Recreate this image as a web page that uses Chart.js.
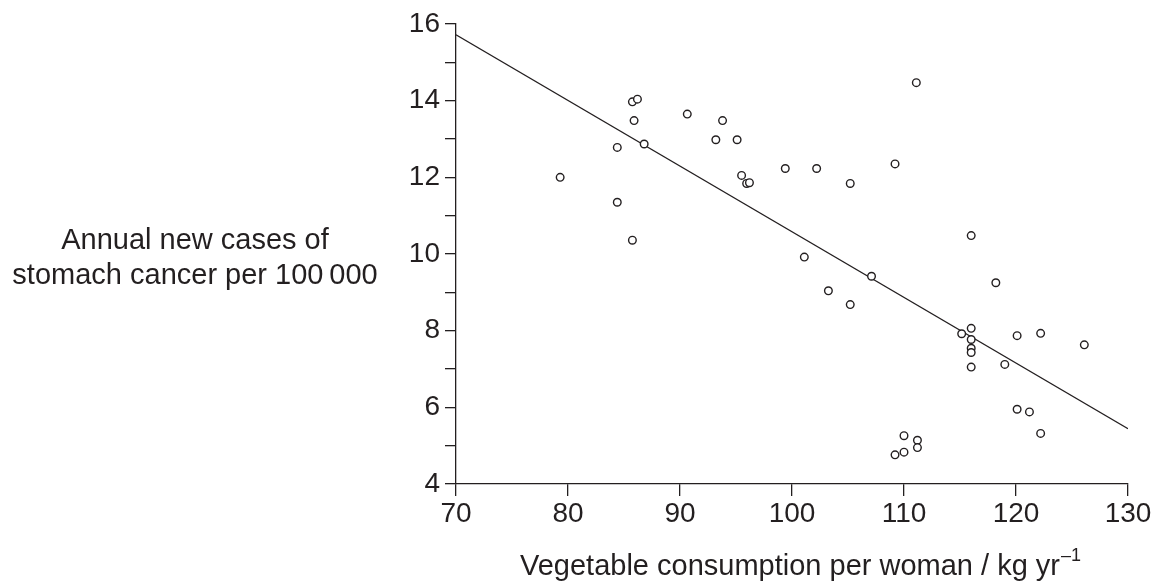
<!DOCTYPE html>
<html>
<head>
<meta charset="utf-8">
<script src="https://cdn.jsdelivr.net/npm/chart.js@4.4.1/dist/chart.umd.min.js"></script>
<style>
  html, body { margin: 0; padding: 0; background: #fff; }
  #wrap { width: 1155px; height: 581px; }
</style>
</head>
<body>
<div id="wrap"><canvas id="chart" width="1155" height="581"></canvas></div>
<script>
// Vegetable consumption (kg/yr) vs stomach cancer cases per 100 000
const vegX = [
  79.3, 84.4, 84.4, 85.75, 86.2, 85.9, 85.75, 86.8, 90.65, 93.2,
  93.8, 95.1, 95.5, 95.95, 96.2, 99.4, 102.2, 105.2, 109.2, 111.1,
  116.0, 101.1, 107.1, 103.25, 118.2, 105.2, 115.15, 116.0, 116.0, 116.0,
  116.0, 116.0, 119.0, 120.1, 122.2, 126.1, 120.1, 121.2, 122.2, 110.0,
  111.2, 111.2, 110.0, 109.2
];
const cancerY = [
  12.0, 12.78, 11.35, 13.97, 14.04, 13.48, 10.36, 12.87, 13.65, 12.98,
  13.48, 12.98, 12.05, 11.84, 11.86, 12.23, 12.23, 11.84, 12.35, 14.47,
  10.48, 9.92, 9.42, 9.04, 9.25, 8.68, 7.92, 8.06, 7.77, 7.54,
  7.43, 7.05, 7.12, 7.87, 7.93, 7.63, 5.95, 5.88, 5.32, 5.26,
  5.14, 4.95, 4.83, 4.76
];
// best-fit line end points
const fitX = [70, 130];
const fitY = [15.72, 5.44];

const xTicks = [70, 80, 90, 100, 110, 120, 130];
const yTitle = ['Annual new cases of', 'stomach cancer per 100\u2009000'];
const xTitle = 'Vegetable consumption per woman / kg yr';
const xTitleSup = '\u20131';

const ink = '#231f20';
const fontFamily = '"Liberation Sans", Arial, Helvetica, sans-serif';

const titlesPlugin = {
  id: 'titles',
  afterDraw(chart) {
    const ctx = chart.ctx;
    ctx.save();
    ctx.fillStyle = ink;
    ctx.font = '29px ' + fontFamily;
    ctx.textAlign = 'center';
    ctx.textBaseline = 'alphabetic';
    ctx.fillText(yTitle[0], 195, 249);
    ctx.fillText(yTitle[1], 195, 284);

    // x title with superscript
    const area = chart.chartArea;
    const mainW = ctx.measureText(xTitle).width;
    ctx.font = '18px ' + fontFamily;
    const supW = ctx.measureText(xTitleSup).width;
    const startX = (area.left + area.right) / 2 - (mainW + supW) / 2 + 8;
    ctx.textAlign = 'left';
    ctx.font = '29px ' + fontFamily;
    ctx.fillText(xTitle, startX, 575);
    ctx.font = '18px ' + fontFamily;
    ctx.fillText(xTitleSup, startX + mainW + 1, 561);
    ctx.restore();
  }
};

const ctx = document.getElementById('chart').getContext('2d');
new Chart(ctx, {
  type: 'scatter',
  data: {
    datasets: [
      {
        label: 'Countries',
        data: vegX.map((x, i) => ({ x: x, y: cancerY[i] })),
        pointStyle: 'circle',
        pointRadius: 3.8,
        pointBorderWidth: 1.4,
        pointBackgroundColor: '#ffffff',
        pointBorderColor: ink
      },
      {
        label: 'Best fit',
        type: 'line',
        data: fitX.map((x, i) => ({ x: x, y: fitY[i] })),
        borderColor: ink,
        borderWidth: 1.2,
        pointRadius: 0,
        fill: false
      }
    ]
  },
  options: {
    responsive: false,
    animation: false,
    events: [],
    layout: { padding: { left: 0, right: 27, top: 24, bottom: 0 } },
    plugins: {
      legend: { display: false },
      tooltip: { enabled: false }
    },
    scales: {
      x: {
        type: 'linear',
        min: 70,
        max: 130,
        afterBuildTicks(scale) {
          scale.ticks = xTicks.map(v => ({ value: v }));
        },
        afterFit(scale) { scale.height = 97; },
        grid: { drawOnChartArea: false, drawTicks: true, tickLength: 12, color: ink, lineWidth: 1.3 },
        border: { display: true, color: ink, width: 1.3 },
        ticks: {
          color: ink,
          padding: 1,
          font: { family: fontFamily, size: 28 },
          maxRotation: 0
        }
      },
      y: {
        type: 'linear',
        min: 4,
        max: 16,
        afterFit(scale) { scale.width = 456; },
        grid: { drawOnChartArea: false, drawTicks: true, tickLength: 11, color: ink, lineWidth: 1.3 },
        border: { display: true, color: ink, width: 1.3 },
        ticks: {
          stepSize: 1,
          autoSkip: false,
          color: ink,
          padding: 5,
          font: { family: fontFamily, size: 28 },
          callback: v => (v % 2 === 0 ? String(v) : '')
        }
      }
    }
  },
  plugins: [titlesPlugin]
});
</script>
</body>
</html>
